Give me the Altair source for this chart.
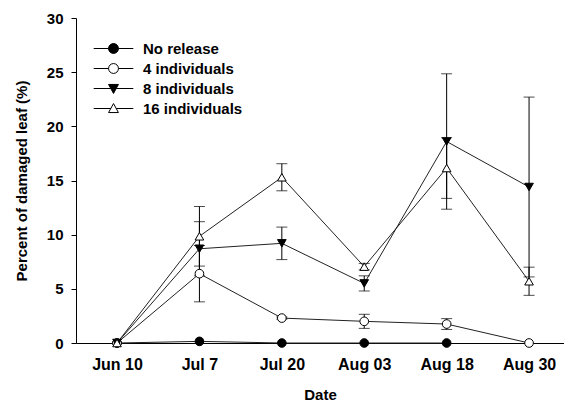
import altair as alt
import pandas as pd

# ---- data ----
dates = ["Jun 10", "Jul 7", "Jul 20", "Aug 03", "Aug 18", "Aug 30"]
series_names = ["No release", "4 individuals", "8 individuals", "16 individuals"]

no_release = [0.0, 0.15, 0.0, 0.0, 0.0, None]
no_release_err = [None, None, None, None, None, None]

ind4 = [0.0, 6.4, 2.3, 2.0, 1.75, 0.0]
ind4_err = [None, 2.6, 0.1, 0.65, 0.5, None]

ind8 = [0.0, 8.7, 9.2, 5.5, 18.6, 14.4]
ind8_err = [None, 2.5, 1.5, 0.7, 6.25, 8.3]

ind16 = [0.0, 9.85, 15.3, 7.05, 16.15, 5.7]
ind16_err = [None, 2.75, 1.25, 0.3, 2.8, 1.3]

y_ticks = [0, 5, 10, 15, 20, 25, 30]

# ---- style ----
FONT = "Liberation Sans"
plot_shapes = ["circle", "circle", "triangle-down", "triangle-up"]
fills = ["black", "white", "black", "white"]
strokes = ["black", "black", "black", "black"]
legend_shapes = [
    "M-4.4,0L-1.1,0M1.1,0L4.4,0M1.1,0A1.1,1.1,0,1,1,-1.1,0A1.1,1.1,0,1,1,1.1,0Z",
    "M-4.4,0L-1.1,0M1.1,0L4.4,0M1.1,0A1.1,1.1,0,1,1,-1.1,0A1.1,1.1,0,1,1,1.1,0Z",
    "M-4.4,0L-0.6,0M0.6,0L4.4,0M-1.1,-0.9L1.1,-0.9L0,1.1Z",
    "M-4.4,0L-0.6,0M0.6,0L4.4,0M0,-1.1L1.1,0.9L-1.1,0.9Z",
]

rows = []
for s_idx, (name, vals, errs) in enumerate(zip(
        series_names,
        [no_release, ind4, ind8, ind16],
        [no_release_err, ind4_err, ind8_err, ind16_err])):
    for d_idx, (d, v, e) in enumerate(zip(dates, vals, errs)):
        if v is None:
            continue
        rows.append({"series": name, "s": s_idx, "date": d, "order": d_idx,
                     "value": v, "err": e})
df = pd.DataFrame(rows)

x_enc = alt.X("date:N", sort=dates,
              scale=alt.Scale(type="point", domain=dates, padding=0.461, align=0.54),
              axis=alt.Axis(title="Date", labelAngle=0, ticks=False, tickSize=0,
                            labelPadding=13, titlePadding=15, labelFontSize=16))
y_scale = alt.Scale(domain=[0, 30], nice=False, zero=True)
y_enc = alt.Y("value:Q", scale=y_scale,
              axis=alt.Axis(title="Percent of damaged leaf (%)", values=y_ticks,
                            tickSize=5, labelPadding=8, titlePadding=17))

base = alt.Chart(df)

lines = base.mark_line(color="#222", strokeWidth=1).encode(
    x=x_enc, y=y_enc, detail="series:N", order="order:Q")

err_data = base.transform_filter("isValid(datum.err) && datum.err > 0").transform_calculate(
    lo="datum.value - datum.err", hi="datum.value + datum.err")

err_rules = err_data.mark_rule(color="black", strokeWidth=1).encode(
    x=x_enc, y=alt.Y("lo:Q", scale=y_scale), y2="hi:Q")
cap_hi = err_data.mark_tick(color="black", thickness=1, size=11, orient="horizontal").encode(
    x=x_enc, y=alt.Y("hi:Q", scale=y_scale))
cap_lo = err_data.mark_tick(color="black", thickness=1, size=11, orient="horizontal").encode(
    x=x_enc, y=alt.Y("lo:Q", scale=y_scale))

points = base.mark_point(opacity=1, stroke="black", strokeWidth=1, size=75).encode(
    x=x_enc, y=y_enc,
    shape=alt.Shape("series:N", scale=alt.Scale(domain=series_names, range=plot_shapes), legend=None),
    fill=alt.Fill("series:N", scale=alt.Scale(domain=series_names, range=fills), legend=None),
    order="s:Q")


def leg():
    return alt.Legend(title=None, orient="none", legendX=30, legendY=23,
                      symbolSize=81, labelOffset=22, rowPadding=4, padding=0,
                      symbolStrokeWidth=1,
                      labelFont=FONT, labelFontSize=15, labelFontWeight="bold",
                      labelColor="black")


legend_layer = base.transform_filter("false").mark_point(
    opacity=1, strokeWidth=1, size=81).encode(
    x=x_enc, y=y_enc,
    shape=alt.Shape("series:N", scale=alt.Scale(domain=series_names, range=legend_shapes), legend=leg()),
    fill=alt.Fill("series:N", scale=alt.Scale(domain=series_names, range=fills), legend=leg()),
    stroke=alt.Stroke("series:N", scale=alt.Scale(domain=series_names, range=strokes), legend=leg()))

chart = alt.layer(lines, err_rules, cap_hi, cap_lo, points, legend_layer).resolve_scale(
    shape="independent", fill="independent", stroke="independent"
).properties(
    width=488, height=325,
    autosize=alt.AutoSizeParams(type="none"),
    padding={"left": 68, "top": 10, "right": 0, "bottom": 58},
).configure_view(stroke=None).configure_axis(
    grid=False, domainColor="black", domainWidth=1, tickColor="black",
    labelFont=FONT, labelFontSize=15, labelFontWeight="bold", labelColor="black",
    titleFont=FONT, titleFontSize=15, titleFontWeight="bold", titleColor="black",
)

chart.save("out.html", embed_options={"renderer": "svg", "actions": False})
